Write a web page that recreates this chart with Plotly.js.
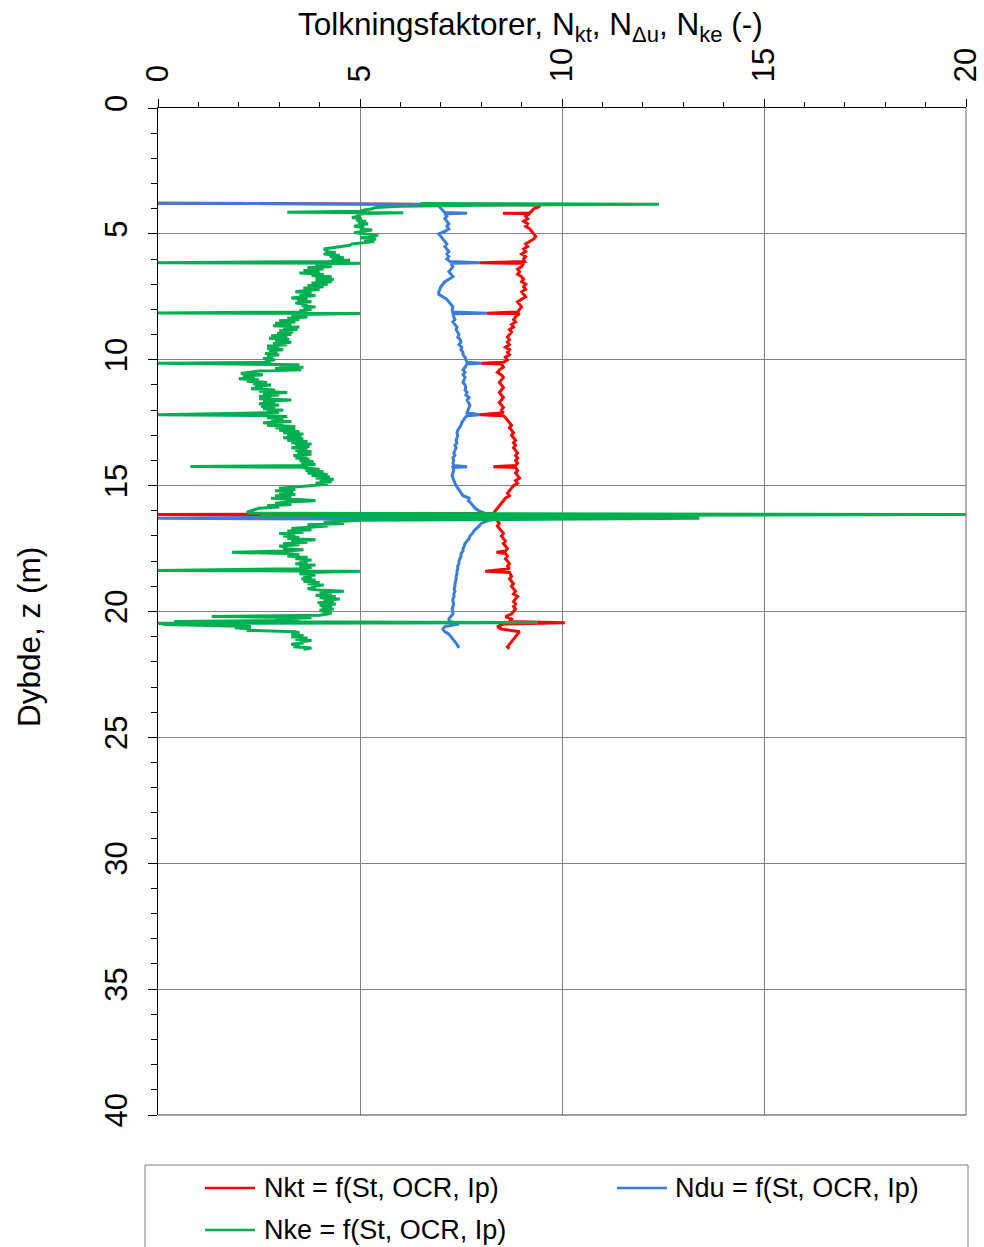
<!DOCTYPE html>
<html>
<head>
<meta charset="utf-8">
<script src="https://cdn.plot.ly/plotly-3.0.1.min.js"></script>
<style>
  html, body { margin: 0; padding: 0; background: #ffffff; }
  #chart { width: 984px; height: 1247px; }
</style>
</head>
<body>
<div id="chart"></div>
<script>
// CPTU interpretation factors versus depth

const seriesNames = ['Nkt = f(St, OCR, Ip)', 'Ndu = f(St, OCR, Ip)', 'Nke = f(St, OCR, Ip)'];
const seriesColors = ['#ff0000', '#3a7ddc', '#00b050'];

const xTickVals = [0, 5, 10, 15, 20];
const yTickVals = [0, 5, 10, 15, 20, 25, 30, 35, 40];

// Nkt (red)
const depthKt = [
  3.78, 3.85, 3.92, 4.0, 4.1, 4.17, 4.18, 4.2, 4.3, 4.4,
  4.5, 4.6, 4.7, 4.8, 4.9, 5.0, 5.1, 5.2, 5.3, 5.4,
  5.5, 5.6, 5.7, 5.8, 5.9, 6.0, 6.1, 6.15, 6.17, 6.3,
  6.4, 6.5, 6.6, 6.7, 6.8, 6.9, 7.0, 7.1, 7.2, 7.3,
  7.4, 7.5, 7.6, 7.7, 7.8, 7.9, 8.0, 8.1, 8.15, 8.17,
  8.3, 8.4, 8.5, 8.6, 8.7, 8.8, 8.9, 9.0, 9.1, 9.2,
  9.3, 9.4, 9.5, 9.6, 9.7, 9.8, 9.9, 10.0, 10.1, 10.14,
  10.17, 10.3, 10.4, 10.5, 10.6, 10.7, 10.8, 10.9, 11.0, 11.1,
  11.2, 11.3, 11.4, 11.5, 11.6, 11.7, 11.8, 11.9, 12.0, 12.1,
  12.18, 12.22, 12.3, 12.4, 12.5, 12.6, 12.7, 12.8, 12.9, 13.0,
  13.1, 13.2, 13.3, 13.4, 13.5, 13.6, 13.7, 13.8, 13.9, 14.0,
  14.1, 14.2, 14.25, 14.28, 14.4, 14.5, 14.6, 14.7, 14.8, 14.9,
  15.0, 15.1, 15.2, 15.3, 15.4, 15.5, 15.6, 15.7, 15.8, 15.9,
  16.0, 16.1, 16.15, 16.2, 16.3, 16.4, 16.5, 16.6, 16.7, 16.8,
  16.9, 17.0, 17.1, 17.2, 17.3, 17.4, 17.5, 17.6, 17.65, 17.7,
  17.8, 17.9, 18.0, 18.1, 18.2, 18.3, 18.4, 18.45, 18.6, 18.7,
  18.8, 18.9, 19.0, 19.1, 19.2, 19.3, 19.4, 19.5, 19.6, 19.7,
  19.8, 19.9, 20.0, 20.1, 20.2, 20.3, 20.4, 20.45, 20.5, 20.6,
  20.7, 20.8, 20.9, 21.0, 21.1, 21.2, 21.3, 21.4, 21.47
];
const nkt = [
  0, 9.4, 9.45, 9.3, 9.25, 9.2, 8.54, 9.2, 9.1, 9.15,
  9.05, 9.15, 9.1, 9.2, 9.25, 9.3, 9.35, 9.3, 9.2, 9.1,
  9.15, 9.05, 9.1, 9.0, 9.1, 9.05, 9.08, 7.97, 9.05, 9.0,
  8.9, 8.95, 8.9, 9.0, 9.05, 9.0, 9.1, 9.05, 9.1, 9.0,
  9.05, 9.1, 9.0, 8.9, 8.95, 9.0, 8.95, 8.9, 8.14, 8.95,
  8.85, 8.8, 8.85, 8.75, 8.8, 8.7, 8.75, 8.7, 8.65, 8.7,
  8.65, 8.7, 8.6, 8.7, 8.65, 8.7, 8.6, 8.65, 8.55, 8.0,
  8.5, 8.55, 8.45, 8.4, 8.5, 8.55, 8.5, 8.45, 8.5, 8.55,
  8.5, 8.45, 8.5, 8.55, 8.5, 8.45, 8.5, 8.55, 8.5, 8.55,
  7.97, 8.55, 8.6, 8.65, 8.7, 8.75, 8.7, 8.75, 8.8, 8.75,
  8.8, 8.85, 8.8, 8.85, 8.8, 8.85, 8.9, 8.85, 8.9, 8.85,
  8.9, 8.85, 8.3, 8.85, 8.9, 8.85, 8.9, 8.95, 8.85, 8.9,
  8.8, 8.75, 8.7, 8.65, 8.7, 8.6, 8.55, 8.5, 8.45, 8.4,
  8.35, 8.3, 0, 8.3, 8.35, 8.4, 8.45, 8.4, 8.45, 8.5,
  8.55, 8.5, 8.55, 8.6, 8.55, 8.6, 8.65, 8.6, 8.38, 8.6,
  8.65, 8.6, 8.65, 8.7, 8.65, 8.7, 8.1, 8.7, 8.75, 8.7,
  8.75, 8.8, 8.75, 8.8, 8.85, 8.8, 8.9, 8.85, 8.8, 8.85,
  8.8, 8.85, 8.8, 8.75, 8.6, 8.75, 8.7, 10.07, 8.55, 8.4,
  8.5, 8.95, 8.9, 8.85, 8.8, 8.75, 8.7, 8.65, 8.7
];

// NΔu (blue)
const depthDu = [
  3.78, 3.83, 3.95, 4.05, 4.15, 4.18, 4.2, 4.3, 4.4, 4.5,
  4.6, 4.7, 4.8, 4.9, 5.0, 5.1, 5.2, 5.3, 5.4, 5.5,
  5.6, 5.7, 5.8, 5.9, 6.0, 6.1, 6.15, 6.17, 6.3, 6.4,
  6.5, 6.6, 6.7, 6.8, 6.9, 7.0, 7.1, 7.2, 7.3, 7.4,
  7.5, 7.6, 7.7, 7.8, 7.9, 8.0, 8.1, 8.15, 8.17, 8.3,
  8.4, 8.5, 8.6, 8.7, 8.8, 8.9, 9.0, 9.1, 9.2, 9.3,
  9.4, 9.5, 9.6, 9.7, 9.8, 9.9, 10.0, 10.1, 10.14, 10.17,
  10.3, 10.4, 10.5, 10.6, 10.7, 10.8, 10.9, 11.0, 11.1, 11.2,
  11.3, 11.4, 11.5, 11.6, 11.7, 11.8, 11.9, 12.0, 12.1, 12.18,
  12.22, 12.3, 12.4, 12.5, 12.6, 12.7, 12.8, 12.9, 13.0, 13.1,
  13.2, 13.3, 13.4, 13.5, 13.6, 13.7, 13.8, 13.9, 14.0, 14.1,
  14.2, 14.25, 14.28, 14.4, 14.5, 14.6, 14.7, 14.8, 14.9, 15.0,
  15.1, 15.2, 15.3, 15.4, 15.5, 15.6, 15.7, 15.8, 15.9, 16.0,
  16.1, 16.2, 16.3, 16.35, 16.4, 16.5, 16.6, 16.7, 16.8, 16.9,
  17.0, 17.1, 17.2, 17.3, 17.4, 17.5, 17.6, 17.7, 17.8, 17.9,
  18.0, 18.1, 18.2, 18.3, 18.4, 18.5, 18.6, 18.7, 18.8, 18.9,
  19.0, 19.1, 19.2, 19.3, 19.4, 19.5, 19.6, 19.7, 19.8, 19.9,
  20.0, 20.1, 20.2, 20.3, 20.4, 20.5, 20.6, 20.7, 20.8, 20.9,
  21.0, 21.1, 21.2, 21.3, 21.45
];
const ndu = [
  0, 7.0, 6.98, 7.05, 7.1, 7.65, 7.1, 7.15, 7.1, 7.15,
  7.2, 7.15, 7.2, 7.1, 6.95, 7.0, 7.05, 7.1, 7.15, 7.1,
  7.15, 7.2, 7.15, 7.2, 7.15, 7.23, 7.97, 7.25, 7.3, 7.25,
  7.2, 7.25, 7.3, 7.2, 7.1, 7.05, 7.0, 6.98, 6.95, 6.95,
  7.05, 7.15, 7.2, 7.25, 7.3, 7.28, 7.3, 8.14, 7.3, 7.32,
  7.35, 7.3, 7.35, 7.4, 7.38, 7.42, 7.45, 7.42, 7.48, 7.5,
  7.45, 7.52, 7.5, 7.55, 7.55, 7.6, 7.62, 7.65, 8.0, 7.65,
  7.6, 7.55, 7.6, 7.55, 7.6, 7.58, 7.55, 7.6, 7.62, 7.6,
  7.65, 7.62, 7.7, 7.65, 7.68, 7.72, 7.7, 7.68, 7.65, 7.97,
  7.65, 7.6, 7.55, 7.52, 7.5, 7.45, 7.42, 7.4, 7.42, 7.4,
  7.38, 7.4, 7.35, 7.38, 7.35, 7.32, 7.35, 7.3, 7.32, 7.3,
  7.32, 7.65, 7.3, 7.32, 7.3, 7.28, 7.3, 7.32, 7.35, 7.38,
  7.42, 7.45, 7.5, 7.55, 7.7, 7.68, 7.75, 7.8, 7.85, 7.95,
  8.1, 8.25, 0, 8.3, 8.15, 8.0, 7.95, 7.88, 7.82, 7.78,
  7.72, 7.7, 7.65, 7.6, 7.58, 7.55, 7.55, 7.5, 7.5, 7.48,
  7.45, 7.45, 7.42, 7.42, 7.4, 7.4, 7.38, 7.38, 7.36, 7.35,
  7.35, 7.33, 7.35, 7.32, 7.33, 7.3, 7.3, 7.32, 7.3, 7.28,
  7.3, 7.3, 7.25, 7.2, 7.22, 7.45, 7.1, 7.05, 7.1, 7.2,
  7.25, 7.3, 7.35, 7.4, 7.45
];

// Nke (green)
const depthKe = [
  3.79, 3.82, 3.86, 3.9, 3.95, 4.0, 4.05, 4.1, 4.14, 4.16,
  4.2, 4.25, 4.3, 4.35, 4.4, 4.45, 4.5, 4.55, 4.6, 4.65,
  4.7, 4.75, 4.8, 4.85, 4.9, 4.95, 5.0, 5.05, 5.1, 5.15,
  5.2, 5.25, 5.3, 5.35, 5.4, 5.45, 5.5, 5.55, 5.6, 5.65,
  5.7, 5.75, 5.8, 5.85, 5.9, 5.95, 6.0, 6.05, 6.1, 6.15,
  6.17, 6.2, 6.25, 6.3, 6.35, 6.4, 6.45, 6.5, 6.55, 6.6,
  6.65, 6.7, 6.75, 6.8, 6.85, 6.9, 6.95, 7.0, 7.05, 7.1,
  7.15, 7.2, 7.25, 7.3, 7.35, 7.4, 7.45, 7.5, 7.55, 7.6,
  7.65, 7.7, 7.75, 7.8, 7.85, 7.9, 7.95, 8.0, 8.05, 8.1,
  8.14, 8.16, 8.2, 8.25, 8.3, 8.35, 8.4, 8.45, 8.5, 8.55,
  8.6, 8.65, 8.7, 8.75, 8.8, 8.85, 8.9, 8.95, 9.0, 9.05,
  9.1, 9.15, 9.2, 9.25, 9.3, 9.35, 9.4, 9.45, 9.5, 9.55,
  9.6, 9.65, 9.7, 9.75, 9.8, 9.85, 9.9, 9.95, 10.0, 10.05,
  10.1, 10.14, 10.17, 10.2, 10.25, 10.3, 10.35, 10.4, 10.45, 10.5,
  10.55, 10.6, 10.65, 10.7, 10.75, 10.8, 10.85, 10.9, 10.95, 11.0,
  11.05, 11.1, 11.15, 11.2, 11.25, 11.3, 11.35, 11.4, 11.45, 11.5,
  11.55, 11.6, 11.65, 11.7, 11.75, 11.8, 11.85, 11.9, 11.95, 12.0,
  12.05, 12.1, 12.18, 12.22, 12.25, 12.3, 12.35, 12.4, 12.45, 12.5,
  12.55, 12.6, 12.65, 12.7, 12.75, 12.8, 12.85, 12.9, 12.95, 13.0,
  13.05, 13.1, 13.15, 13.2, 13.25, 13.3, 13.35, 13.4, 13.45, 13.5,
  13.55, 13.6, 13.65, 13.7, 13.75, 13.8, 13.85, 13.9, 13.95, 14.0,
  14.05, 14.1, 14.15, 14.2, 14.24, 14.27, 14.3, 14.35, 14.4, 14.45,
  14.5, 14.55, 14.6, 14.65, 14.7, 14.75, 14.8, 14.85, 14.9, 14.95,
  15.0, 15.05, 15.1, 15.15, 15.2, 15.25, 15.3, 15.35, 15.4, 15.45,
  15.5, 15.55, 15.6, 15.65, 15.7, 15.75, 15.8, 15.85, 15.9, 15.95,
  16.0, 16.05, 16.1, 16.15, 16.22, 16.3, 16.38, 16.45, 16.5, 16.55,
  16.6, 16.65, 16.7, 16.75, 16.8, 16.85, 16.9, 16.95, 17.0, 17.05,
  17.1, 17.15, 17.2, 17.25, 17.3, 17.35, 17.4, 17.45, 17.5, 17.55,
  17.6, 17.65, 17.68, 17.7, 17.75, 17.8, 17.85, 17.9, 17.95, 18.0,
  18.05, 18.1, 18.15, 18.2, 18.25, 18.3, 18.37, 18.4, 18.45, 18.5,
  18.55, 18.6, 18.65, 18.7, 18.75, 18.8, 18.85, 18.9, 18.95, 19.0,
  19.05, 19.1, 19.15, 19.2, 19.25, 19.3, 19.35, 19.4, 19.45, 19.5,
  19.55, 19.6, 19.65, 19.7, 19.75, 19.8, 19.85, 19.9, 19.95, 20.0,
  20.05, 20.1, 20.15, 20.2, 20.25, 20.3, 20.35, 20.4, 20.44, 20.47,
  20.52, 20.56, 20.6, 20.65, 20.7, 20.75, 20.8, 20.85, 20.9, 20.95,
  21.0, 21.05, 21.1, 21.15, 21.2, 21.25, 21.3, 21.35, 21.4, 21.45,
  21.5
];
const nke = [
  6.5, 12.4, 8.0, 6.0, 5.4, 5.3, 5.1, 5.0, 3.2, 6.07,
  5.1, 4.9, 5.0, 4.8, 5.05, 4.9, 5.15, 4.95, 5.2, 5.0,
  4.85, 5.1, 5.0, 5.3, 5.0, 4.85, 5.1, 5.45, 5.3, 5.0,
  5.4, 5.1, 5.35, 5.0, 4.8, 4.75, 4.5, 4.35, 4.1, 4.2,
  4.15, 4.4, 4.1, 4.5, 4.25, 4.6, 4.3, 4.75, 4.2, 0,
  5.0, 4.05, 3.9, 4.3, 3.7, 4.1, 3.6, 4.0, 3.5, 4.1,
  3.8, 4.3, 3.9, 4.35, 3.9, 4.3, 3.8, 4.2, 3.7, 4.1,
  3.6, 4.0, 3.65, 3.4, 3.8, 3.5, 3.9, 3.6, 3.3, 3.7,
  3.45, 3.8, 3.4, 3.7, 3.55, 3.9, 3.6, 3.8, 3.5, 3.7,
  0, 5.0, 3.55, 3.3, 3.7, 3.2, 3.5, 3.0, 3.4, 2.9,
  3.3, 2.85, 3.5, 3.1, 3.45, 3.0, 3.35, 2.95, 3.3, 2.8,
  3.2, 2.75, 3.25, 2.9, 3.3, 2.85, 3.2, 2.7, 3.0, 2.7,
  3.1, 2.75, 2.95, 2.65, 3.0, 2.7, 2.85, 2.6, 2.9, 2.65,
  2.8, 0, 2.7, 3.5, 3.0, 3.6, 2.9, 3.55, 2.5, 2.3,
  2.05, 2.6, 2.1, 2.4, 2.0, 2.5, 2.2, 2.7, 2.35, 2.8,
  2.4, 2.6, 2.3, 2.9, 2.5, 3.2, 2.6, 3.0, 2.5, 2.8,
  2.5, 3.3, 2.6, 2.9, 2.5, 3.0, 2.55, 2.9, 2.6, 3.1,
  2.7, 3.0, 0, 2.7, 3.2, 2.7, 3.1, 2.8, 3.3, 2.6,
  3.1, 2.7, 3.4, 2.9, 3.4, 3.0, 3.5, 3.1, 3.6, 3.2,
  3.55, 3.1, 3.6, 3.2, 3.7, 3.3, 3.8, 3.4, 3.75, 3.3,
  3.7, 3.4, 3.8, 3.45, 3.8, 3.35, 3.7, 3.4, 3.75, 3.5,
  3.85, 3.55, 3.9, 3.6, 0.8, 3.7, 3.6, 4.0, 3.65, 4.1,
  3.7, 4.2, 3.8, 4.25, 3.9, 4.35, 4.0, 4.3, 3.9, 4.2,
  3.7, 3.3, 3.0, 3.4, 2.9, 3.35, 3.0, 3.4, 2.9, 3.3,
  2.8, 3.5, 3.9, 3.2, 2.9, 3.3, 2.7, 3.0, 2.5, 2.4,
  2.3, 2.2, 2.3, 20, 2.5, 13.4, 5.0, 4.1, 4.6, 3.7,
  4.2, 3.6, 3.3, 3.8, 3.2, 3.6, 3.0, 3.4, 3.1, 3.5,
  3.2, 3.9, 3.3, 3.7, 3.1, 3.5, 3.0, 3.2, 3.1, 3.6,
  3.2, 1.83, 3.1, 3.2, 3.5, 3.2, 3.7, 3.4, 3.8, 3.5,
  3.7, 3.4, 3.9, 3.5, 3.8, 3.6, 0, 5.0, 3.7, 3.5,
  3.9, 3.6, 3.8, 3.55, 3.9, 3.6, 4.0, 3.7, 4.1, 3.8,
  3.9, 3.7, 4.0, 4.6, 4.0, 4.3, 3.9, 4.4, 4.0, 4.5,
  4.1, 4.35, 3.95, 4.4, 4.0, 4.3, 4.05, 4.35, 4.0, 4.1,
  4.3, 4.2, 4.0, 1.33, 3.8, 2.9, 3.5, 0.4, 9.4, 0,
  0.2, 1.0, 2.3, 1.9, 2.3, 2.2, 3.4, 3.5, 3.3, 3.6,
  3.3, 3.7, 3.4, 3.8, 3.5, 3.6, 3.3, 3.5, 3.35, 3.8,
  3.6
];

const FONT = 'Liberation Sans, Arial, sans-serif';

const traces = [
  { x: nkt, y: depthKt, name: seriesNames[0], color: seriesColors[0] },
  { x: ndu, y: depthDu, name: seriesNames[1], color: seriesColors[1] },
  { x: nke, y: depthKe, name: seriesNames[2], color: seriesColors[2] }
].map(s => ({
  type: 'scatter',
  mode: 'lines',
  x: s.x,
  y: s.y,
  name: s.name,
  showlegend: false,
  line: { color: s.color, width: 3 }
}));

// Plot area in pixels: left 158, right 966, top 108, bottom 1115
const L = 158, R = 966, T = 108, B = 1115;
const px = v => (v - L) / (R - L);
const py = v => (B - v) / (B - T);

// Legend box drawn below the plot
const legendRows = [
  { name: seriesNames[0], color: seriesColors[0], x0: 205, x1: 255, tx: 262, y: 1188 },
  { name: seriesNames[1], color: seriesColors[1], x0: 617, x1: 667, tx: 673, y: 1188 },
  { name: seriesNames[2], color: seriesColors[2], x0: 205, x1: 255, tx: 262, y: 1230 }
];

const shapes = [
  // right and bottom frame
  { type: 'line', xref: 'paper', yref: 'paper', x0: 1, x1: 1, y0: 0, y1: 1, line: { color: '#808080', width: 1.2 } },
  { type: 'line', xref: 'paper', yref: 'paper', x0: 0, x1: 1, y0: 0, y1: 0, line: { color: '#404040', width: 1.2 } },
  // legend frame
  { type: 'rect', xref: 'paper', yref: 'paper', x0: px(145), x1: px(968), y0: py(1165), y1: py(1300),
    line: { color: '#808080', width: 1 }, fillcolor: 'rgba(0,0,0,0)' }
];
legendRows.forEach(r => shapes.push({
  type: 'line', xref: 'paper', yref: 'paper', x0: px(r.x0), x1: px(r.x1), y0: py(r.y), y1: py(r.y),
  line: { color: r.color, width: 2.6 }
}));

const annotations = [
  {
    text: 'Tolkningsfaktorer, N<sub>kt</sub>, N<sub>Δu</sub>, N<sub>ke</sub> (-)',
    xref: 'paper', yref: 'paper', x: px(530), y: py(27), xanchor: 'center', yanchor: 'middle',
    showarrow: false, font: { family: FONT, size: 31.5, color: '#000000' }
  },
  {
    text: 'Dybde, z (m)',
    xref: 'paper', yref: 'paper', x: px(29), y: py(637), xanchor: 'center', yanchor: 'middle',
    textangle: -90, showarrow: false, font: { family: FONT, size: 31.5, color: '#000000' }
  }
];
legendRows.forEach(r => annotations.push({
  text: r.name, xref: 'paper', yref: 'paper', x: px(r.tx), y: py(r.y),
  xanchor: 'left', yanchor: 'middle', showarrow: false,
  font: { family: FONT, size: 27, color: '#000000' }
}));

const layout = {
  width: 984,
  height: 1247,
  margin: { l: L, r: 984 - R, t: T, b: 1247 - B, pad: 0 },
  paper_bgcolor: '#ffffff',
  plot_bgcolor: '#ffffff',
  font: { family: FONT, color: '#000000' },
  showlegend: false,
  xaxis: {
    side: 'top',
    range: [0, 20],
    tickmode: 'array',
    tickvals: xTickVals,
    ticktext: xTickVals.map(String),
    tickangle: -90,
    tickfont: { family: FONT, size: 31, color: '#000000' },
    ticks: 'outside',
    ticklen: 8,
    tickwidth: 1,
    tickcolor: '#000000',
    ticklabelstandoff: 10,
    minor: { dtick: 1, ticks: 'outside', ticklen: 5, tickwidth: 1, tickcolor: '#000000', showgrid: false },
    showgrid: true,
    gridcolor: '#808080',
    gridwidth: 1,
    zeroline: false,
    showline: true,
    linecolor: '#000000',
    linewidth: 1.5,
    fixedrange: true
  },
  yaxis: {
    range: [40, 0],
    tickmode: 'array',
    tickvals: yTickVals,
    ticktext: yTickVals.map(String),
    tickangle: -90,
    tickfont: { family: FONT, size: 31, color: '#000000' },
    ticks: 'outside',
    ticklen: 9,
    tickwidth: 1,
    tickcolor: '#000000',
    ticklabelstandoff: 8,
    minor: { dtick: 1, ticks: 'outside', ticklen: 6, tickwidth: 1, tickcolor: '#000000', showgrid: false },
    showgrid: true,
    gridcolor: '#808080',
    gridwidth: 1,
    zeroline: false,
    showline: true,
    linecolor: '#000000',
    linewidth: 1.5,
    fixedrange: true
  },
  shapes: shapes,
  annotations: annotations
};

Plotly.newPlot('chart', traces, layout, { staticPlot: true, displayModeBar: false });
</script>
</body>
</html>
